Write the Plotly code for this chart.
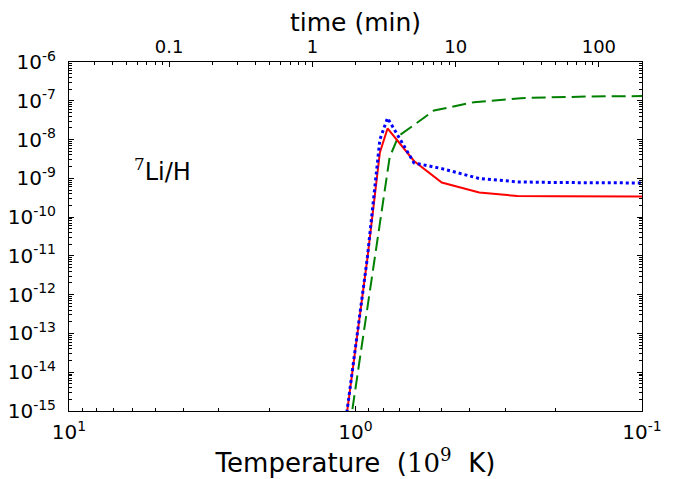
import plotly.graph_objects as go

# Temperature grid (10^9 K) and Li7/H abundances
T_red = [1.1, 0.91, 0.822, 0.773, 0.625, 0.5, 0.37, 0.272, 0.2, 0.15, 0.1]
y_red = [2.0e-16, 8.0e-12, 4.66e-9, 1.93e-8, 2.8e-9, 7.8e-10, 4.3e-10, 3.5e-10, 3.45e-10, 3.4e-10, 3.4e-10]

T_blue = [1.1, 0.91, 0.822, 0.773, 0.625, 0.5, 0.37, 0.272, 0.2, 0.15, 0.1]
y_blue = [2.2e-16, 8.5e-12, 1.0e-8, 3.6e-8, 2.5e-9, 1.78e-9, 9.9e-10, 8.1e-10, 7.8e-10, 7.7e-10, 7.6e-10]

T_green = [1.1, 0.856, 0.760, 0.708, 0.532, 0.386, 0.265, 0.155, 0.1]
y_green = [3.3e-17, 8.0e-12, 3.5e-9, 1.23e-8, 5.6e-8, 9.2e-8, 1.17e-7, 1.29e-7, 1.32e-7]

y_major = [10.0 ** e for e in range(-15, -5)]
y_labels = ["10<sup>%d</sup>" % e for e in range(-15, -5)]
x_major = [10.0, 1.0, 0.1]
x_labels = ["10<sup>1</sup>", "10<sup>0</sup>", "10<sup>-1</sup>"]
t_major = [0.1, 1, 10, 100]
t_labels = ["0.1", "1", "10", "100"]
t_range = [0.02, 200]  # time (min) spanned by the top axis

FONT = "DejaVu Sans"

def minor_vals(lo, hi):
    vals = []
    for e in range(lo, hi):
        for k in range(2, 10):
            vals.append(k * 10.0 ** e)
    return vals

fig = go.Figure()
fig.add_trace(go.Scatter(x=T_green, y=y_green, mode="lines",
                         line=dict(color="#008000", width=2, dash="14px,6px"), showlegend=False))
fig.add_trace(go.Scatter(x=T_red, y=y_red, mode="lines",
                         line=dict(color="#ff0000", width=2), showlegend=False))
fig.add_trace(go.Scatter(x=T_blue, y=y_blue, mode="lines",
                         line=dict(color="#0000ff", width=3, dash="3px,3px"), showlegend=False))
# invisible trace so that the top (time) axis is drawn
fig.add_trace(go.Scatter(x=t_range, y=[None, None], xaxis="x2", mode="lines",
                         showlegend=False, hoverinfo="skip"))

axis_common = dict(showline=True, linecolor="black", linewidth=1, ticks="inside",
                   tickcolor="black", ticklen=5, tickwidth=1, showgrid=False, zeroline=False,
                   automargin=False)

fig.update_layout(
    width=665, height=471,
    margin=dict(l=61, r=31, t=54, b=68),
    paper_bgcolor="white", plot_bgcolor="white",
    font=dict(family=FONT, color="black"),
    xaxis=dict(type="log", range=[1, -1], tickmode="array", tickvals=x_major, ticktext=x_labels,
               tickfont=dict(size=20), ticklabelstandoff=3, mirror=True,
               minor=dict(tickvals=minor_vals(-1, 1), ticks="inside", ticklen=3, tickcolor="black"),
               title=dict(text="Temperature&nbsp;&nbsp;(<span style='font-family:DejaVu Serif'>10<sup>9</sup></span>&nbsp;&nbsp;K)",
                          font=dict(size=26), standoff=4),
               **axis_common),
    xaxis2=dict(type="log", range=[-1.699, 2.301], overlaying="x", side="top", anchor="y",
                tickmode="array", tickvals=t_major, ticktext=t_labels, tickfont=dict(size=18),
                ticklabelstandoff=1,
                minor=dict(tickvals=minor_vals(-2, 3), ticks="inside", ticklen=3, tickcolor="black"),
                title=dict(text="time (min)", font=dict(size=25), standoff=2),
                **axis_common),
    yaxis=dict(type="log", range=[-15, -6], tickmode="array", tickvals=y_major, ticktext=y_labels,
               tickfont=dict(size=20), ticklabelstandoff=8, mirror="ticks",
               minor=dict(tickvals=minor_vals(-15, -6), ticks="inside", ticklen=3, tickcolor="black"),
               **axis_common),
)

fig.add_annotation(x=0.110, y=0.69, xref="paper", yref="paper", xanchor="left", yanchor="middle",
                   text="<sup><span style='font-family:DejaVu Serif'>7</span></sup>Li/H",
                   showarrow=False, font=dict(size=24, family=FONT))

fig.write_html("out.html")
